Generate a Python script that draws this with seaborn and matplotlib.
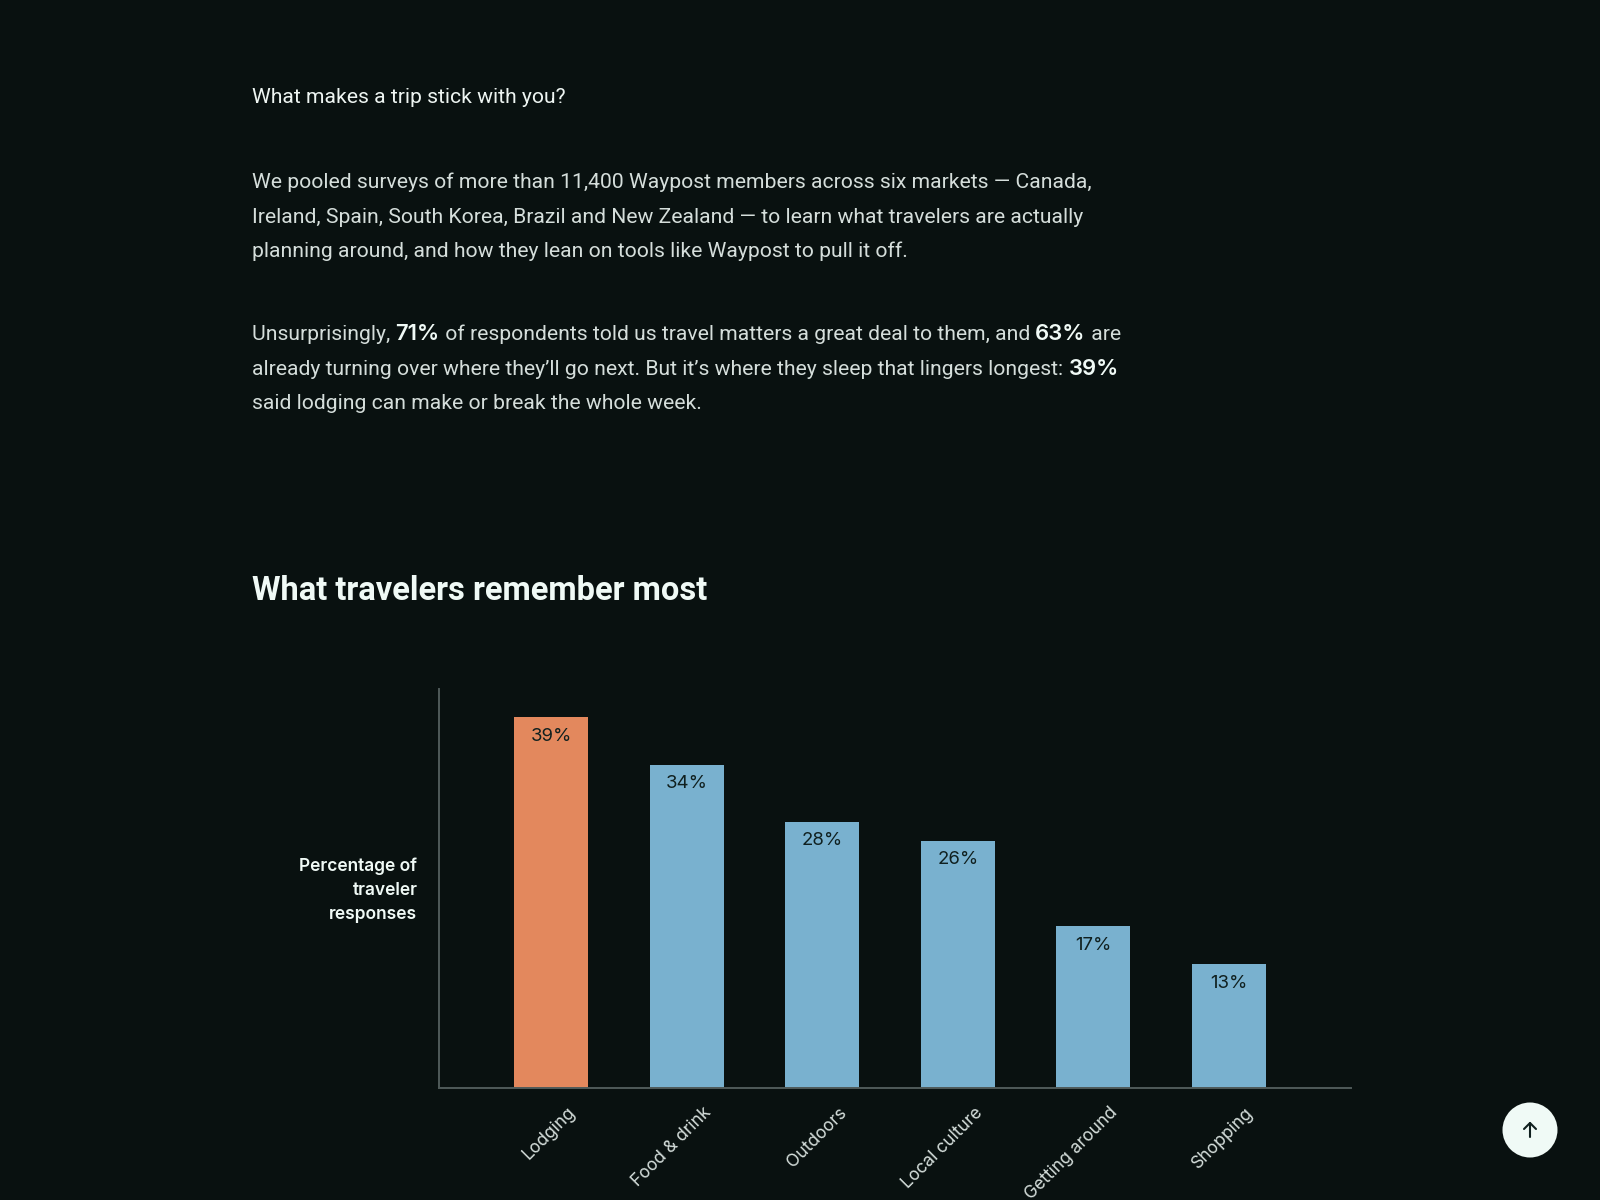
#!/usr/bin/env python3
import pandas as pd
import seaborn as sns
import matplotlib.pyplot as plt
from matplotlib.patches import Circle
from matplotlib.transforms import ScaledTranslation

categories = ["Lodging", "Food & drink", "Outdoors", "Local culture", "Getting around", "Shopping"]
values = [39, 34, 28, 26, 17, 13]
bar_colors = ["#e3885d", "#79b1cf", "#79b1cf", "#79b1cf", "#79b1cf", "#79b1cf"]

question = "What makes a trip stick with you?"
para_one = [
    "We pooled surveys of more than 11,400 Waypost members across six markets — Canada,",
    "Ireland, Spain, South Korea, Brazil and New Zealand — to learn what travelers are actually",
    "planning around, and how they lean on tools like Waypost to pull it off.",
]
para_two = [
    [("Unsurprisingly, ", False), ("71%", True), (" of respondents told us travel matters a great deal to them, and ", False), ("63%", True), (" are", False)],
    [("already turning over where they’ll go next. But it’s where they sleep that lingers longest: ", False), ("39%", True)],
    [("said lodging can make or break the whole week.", False)],
]
title = "What travelers remember most"
y_label = "Percentage of\ntraveler\nresponses"

BG = "#091110"
W, H = 1600, 1200
BODY = "#d5dedb"
BRIGHT = "#f0faf6"
PROSE = ["Roboto", "DejaVu Sans"]
STRONG = ["Inter", "DejaVu Sans"]
BODY_SIZE = 15.25


def px(x, y):
    return x / W, 1 - y / H


def rich_line(fig, x, y, parts):
    # bold runs sit inside the line, so measure each run to place the next
    renderer = fig.canvas.get_renderer()
    for text, strong in parts:
        t = fig.text(*px(x, y), text.replace(" ", "\u00a0"), fontsize=15.9 if strong else BODY_SIZE,
                     color=BRIGHT if strong else BODY, family=STRONG if strong else PROSE,
                     fontweight="semibold" if strong else "normal", va="baseline", ha="left")
        x += t.get_window_extent(renderer).width


def main():
    sns.set_theme(style="dark", rc={"axes.facecolor": BG, "figure.facecolor": BG, "savefig.facecolor": BG})
    plt.rcParams["font.family"] = ["Inter", "DejaVu Sans"]

    df = pd.DataFrame({"category": categories, "value": values})

    fig = plt.figure(figsize=(16, 12), dpi=100)
    ax = fig.add_axes([439 / W, 1 - 1088 / H, (1351 - 439) / W, (1088 - 689) / H])
    sns.barplot(data=df, x="category", y="value", hue="category", palette=bar_colors,
                order=categories, hue_order=categories, legend=False, width=0.545, saturation=1,
                linewidth=0, ax=ax)
    ax.set_xlim(-0.827, 5.900)
    ax.set_ylim(0, 41.95)

    for container, val in zip(ax.containers, values):
        ax.bar_label(container, labels=[f"{val}%"], padding=-20, fontsize=13.4, color="#10201f")

    sns.despine(ax=ax)
    for side in ("left", "bottom"):
        ax.spines[side].set_color("#4f5a59")
        ax.spines[side].set_linewidth(1.4)
    ax.set_yticks([])
    ax.set_xlabel("")
    ax.tick_params(axis="x", length=0, pad=11.5)
    ax.set_xticks(range(len(categories)))
    ax.set_xticklabels(categories, rotation=45, ha="right", va="top", rotation_mode="anchor",
                       fontsize=12.6, color="#d5dedb")
    shift = ScaledTranslation(16 / 100, 0, fig.dpi_scale_trans)
    for lab in ax.get_xticklabels():
        lab.set_transform(lab.get_transform() + shift)

    ax.set_ylabel(y_label, rotation=0, ha="right", va="center", fontsize=12.5, fontweight="semibold",
                  color=BRIGHT, linespacing=1.54)
    ax.yaxis.set_label_coords((417.5 - 439) / 912, (1088 - 890) / 399)

    fig.canvas.draw()
    fig.text(*px(252, 103.4), question, fontsize=BODY_SIZE, color="#eef5f2", va="baseline", family=PROSE)
    for y, line in zip((188.4, 222.8, 257.4), para_one):
        fig.text(*px(252, y), line, fontsize=BODY_SIZE, color=BODY, va="baseline", family=PROSE)
    for y, parts in zip((340.4, 374.8, 409.4), para_two):
        rich_line(fig, 252, y, parts)
    fig.text(*px(252, 600.5), title, fontsize=23.5, fontweight="bold", color=BRIGHT, va="baseline", family=PROSE)

    # back-to-top button
    fig.add_artist(Circle((1530, H - 1130), 27.5, transform=None, facecolor="#f0faf6", edgecolor="none"))
    arrow = fig.add_axes([0, 0, 1, 1], facecolor="none", zorder=5)
    arrow.set_axis_off()
    arrow.set_xlim(0, W)
    arrow.set_ylim(H, 0)
    arrow.plot([1530, 1530], [1123, 1137], color="#10201f", lw=1.5, solid_capstyle="round")
    arrow.plot([1524, 1530, 1536], [1129, 1123, 1129], color="#10201f", lw=1.5, solid_capstyle="round",
               solid_joinstyle="round")

    fig.savefig("out.png", dpi=100)
    plt.close(fig)


if __name__ == "__main__":
    main()
